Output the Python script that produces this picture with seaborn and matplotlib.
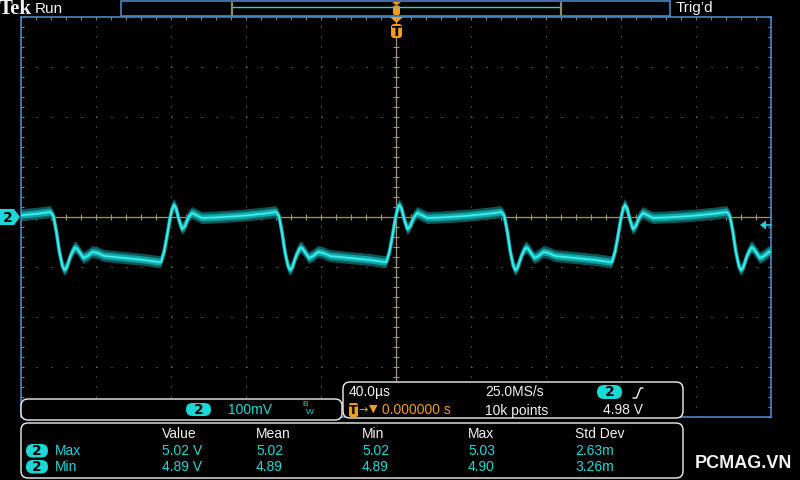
import numpy as np
import pandas as pd
import seaborn as sns
import matplotlib.pyplot as plt
from matplotlib.patches import FancyBboxPatch, Polygon, Rectangle


# ==================================================
# 파형 데이터 (화면에서 읽은 값)
# ==================================================
# ch2 한 주기: 상승 에지 기준 시간(us), 전압(V)
cycle_t_us = [-4.8, -3.2, -1.6, 0.0, 1.1, 2.1, 3.2, 4.8, 6.4, 8.0, 9.6, 11.7,
              13.9, 17.1, 24.0, 37.3, 50.7, 56.5,
              58.1, 59.7, 61.3, 62.9, 64.0, 65.1, 67.2, 69.3, 70.4, 72.0,
              74.1, 76.3, 78.9, 81.6, 85.3, 96.0, 106.7, 114.1]
cycle_v = [4.910, 4.930, 4.962, 4.998, 5.016, 5.024, 5.018, 4.994, 4.976, 4.982,
           4.998, 5.008, 5.004, 4.998, 4.999, 5.002, 5.007, 5.010,
           5.002, 4.970, 4.930, 4.902, 4.894, 4.898, 4.922, 4.938, 4.938, 4.930,
           4.918, 4.922, 4.930, 4.928, 4.922, 4.918, 4.914, 4.910]

# 화면에 보이는 상승 에지 위치(us)
rise_edges_us = [-240.8, -120.5, -0.3, 120.0]

# 측정 표
meas_cols = ["Value", "Mean", "Min", "Max", "Std Dev"]
meas_rows = ["Max", "Min"]
meas_vals = [["5.02 V", "5.02", "5.02", "5.03", "2.63m"],
             ["4.89 V", "4.89", "4.89", "4.90", "3.26m"]]

time_per_div = 40.0     # us
volt_per_div = 0.1      # V
volt_center = 5.0


trace = pd.concat(
    [pd.DataFrame({"t_us": np.add(e, cycle_t_us), "v": cycle_v}) for e in rise_edges_us],
    ignore_index=True,
)


# 시각화 설정
sns.set_theme(style="dark", rc={
    "axes.facecolor": "black",
    "figure.facecolor": "black",
    "lines.scale_dashes": False,
})
FONT = ["Liberation Sans", "DejaVu Sans"]
plt.rcParams["font.family"] = FONT

CYAN = "#1ad9d9"
ORANGE = "#f39c1e"
WHITE = "#f2f2f2"
BLUE = "#4e84c4"
GRID = "#8a8068"
CENTER = "#a09478"


fig = plt.figure(figsize=(8, 4.8), dpi=100)
ax = fig.add_axes([21 / 800, 63 / 480, 750 / 800, 400 / 480])

xmin, xmax = -5 * time_per_div, 5 * time_per_div
ymin, ymax = volt_center - 4 * volt_per_div, volt_center + 4 * volt_per_div

# 눈금(graticule)
for k in range(-4, 5):
    if k != 0:
        ax.axvline(k * time_per_div, color=GRID, lw=0.75, ls=(0, (0.75, 6.45)), zorder=1)
for k in range(-3, 4):
    if k != 0:
        ax.axhline(volt_center + k * volt_per_div, color=GRID, lw=0.75,
                   ls=(0, (0.75, 10.05)), zorder=1)

ax.axhline(volt_center, color=CENTER, lw=0.9, zorder=1)
ax.axvline(0, color=CENTER, lw=0.9, zorder=1)
minor_x = np.arange(xmin, xmax + 0.1, time_per_div / 5)
minor_y = np.arange(ymin, ymax + 0.001, volt_per_div / 5)
ax.plot(minor_x, np.full_like(minor_x, volt_center), ls="none", marker="|",
        ms=5, mew=0.8, color=CENTER, zorder=1)
ax.plot(np.zeros_like(minor_y), minor_y, ls="none", marker="_",
        ms=5, mew=0.8, color=CENTER, zorder=1)
for edge in (xmin, xmax):
    ax.plot(np.full_like(minor_y, edge), minor_y, ls="none", marker="_",
            ms=5, mew=0.8, color=GRID, zorder=1)
ax.plot(minor_x, np.full_like(minor_x, ymax), ls="none", marker="|",
        ms=5, mew=0.8, color=GRID, zorder=1)

# 파형 (잔상 밴드 + 중심선)
ax.fill_between(trace["t_us"], trace["v"] - 0.012, trace["v"] + 0.012,
                color="#0a5859", lw=0, zorder=2)
ax.fill_between(trace["t_us"], trace["v"] - 0.007, trace["v"] + 0.007,
                color="#12a2a2", lw=0, zorder=3)
sns.lineplot(data=trace, x="t_us", y="v", sort=False, estimator=None,
             color="#16b4b4", lw=2.6, ax=ax, zorder=3)
sns.lineplot(data=trace, x="t_us", y="v", sort=False, estimator=None,
             color="#3ef0f0", lw=1.2, ax=ax, zorder=4)

ax.set_xlim(xmin, xmax)
ax.set_ylim(ymin, ymax)
ax.set_xticks([])
ax.set_yticks([])
ax.set_xlabel("")
ax.set_ylabel("")
for s in ax.spines.values():
    s.set_visible(True)
    s.set_color(BLUE)
    s.set_linewidth(1.2)


# ==================================================
# 화면 UI (픽셀 좌표)
# ==================================================
ui = fig.add_axes([0, 0, 1, 1], zorder=5)
ui.set_xlim(0, 800)
ui.set_ylim(480, 0)
ui.axis("off")
ui.patch.set_alpha(0)


def txt(x, y, s, color=WHITE, size=10, **kw):
    ui.text(x, y, s, color=color, fontsize=size, va="center", ha="left",
            family=kw.pop("family", FONT), **kw)


def pill(x, y, w, h, label, color=CYAN):
    ui.add_patch(FancyBboxPatch((x, y), w, h, boxstyle=f"round,pad=0,rounding_size={h / 2}",
                                fc=color, ec="none"))
    ui.text(x + w / 2, y + h / 2 + 0.5, label, color="black", fontsize=10, fontweight="bold",
            ha="center", va="center", family=["DejaVu Sans"])


def panel(x, y, w, h):
    ui.add_patch(FancyBboxPatch((x, y), w, h, boxstyle="round,pad=0,rounding_size=7",
                                fc="black", ec=WHITE, lw=1.0))


# 상단 바
txt(-1, 9, "Tek", size=15, fontweight="bold", family=["Liberation Serif", "DejaVu Serif"])
txt(35, 9, "Run", size=11)
txt(676, 8, "Trig’d", size=11)
ui.add_patch(Rectangle((121, 1), 549, 15, fill=False, ec=BLUE, lw=1.2))
ui.plot([232, 561], [7, 7], color=CYAN, lw=1.0)
ui.plot([232, 232], [3, 15], color="#8f8a78", lw=1.6)
ui.plot([561, 561], [3, 15], color="#8f8a78", lw=1.6)
ui.add_patch(Polygon([(392, 2), (401, 2), (396.5, 5.5)], fc=ORANGE, ec="none"))
ui.add_patch(FancyBboxPatch((393, 5.5), 7, 9.5, boxstyle="round,pad=0,rounding_size=2",
                            fc=ORANGE, ec="none"))

# 트리거 위치 마커
ui.add_patch(Polygon([(390, 17), (403, 17), (396.5, 23)], fc=ORANGE, ec="none"))
ui.add_patch(FancyBboxPatch((391, 24), 11, 14, boxstyle="round,pad=0,rounding_size=3",
                            fc=ORANGE, ec="none"))
ui.text(396.5, 31.5, "T", color="black", fontsize=10, fontweight="bold",
        ha="center", va="center", family=["DejaVu Sans"])

# 채널 2 기준 마커 / 트리거 레벨 마커
ui.add_patch(Polygon([(0, 209), (14, 209), (20, 217), (14, 225), (0, 225)], fc=CYAN, ec="none"))
ui.text(8, 217.5, "2", color="black", fontsize=10, fontweight="bold",
        ha="center", va="center", family=["DejaVu Sans"])
ui.add_patch(Polygon([(760, 225), (766, 220.5), (766, 229.5)], fc=CYAN, ec="none"))
ui.plot([766, 771], [225, 225], color=CYAN, lw=1.2)

# 채널 박스
panel(21, 399, 321, 21)
pill(186, 403, 25, 13, "2")
txt(228, 409.5, "100mV", color=CYAN)
txt(302, 405, "B", color=CYAN, size=6)
txt(306, 412, "W", color=CYAN, size=6)

# 타임베이스 박스
panel(343, 382, 340, 36)
txt(349, 392, "40.0µs")
txt(485, 392, "25.0MS/s")
pill(597, 385, 25, 14, "2")
ui.plot([633, 636.5, 640.5, 643], [398, 398, 388, 388], color=WHITE, lw=1.0)
ui.add_patch(FancyBboxPatch((349, 403), 9, 14, boxstyle="round,pad=0,rounding_size=2",
                            fc=ORANGE, ec="none"))
ui.text(353.5, 410.5, "T", color="black", fontsize=9, fontweight="bold",
        ha="center", va="center", family=["DejaVu Sans"])
txt(358, 410, "→", color=ORANGE, size=8, family=["DejaVu Sans"])
txt(369, 409, "▼", color=ORANGE, size=8, family=["DejaVu Sans"])
txt(382, 410.5, "0.000000 s", color=ORANGE)
txt(485, 410.5, "10k points")
txt(603, 410.5, "4.98 V")

# 측정 박스
panel(21, 423, 662, 55)
col_x = [162, 256, 362, 468, 575]
for cx, name in zip(col_x, meas_cols):
    txt(cx, 434, name)
for ry, label, vals in zip([451, 467], meas_rows, meas_vals):
    pill(26, ry - 7, 22, 13.5, "2")
    txt(55, ry, label, color=CYAN)
    for cx, v in zip(col_x, vals):
        txt(cx, ry, v, color=CYAN)

txt(695, 463, "PCMAG.VN", size=13, fontweight="bold", family=["Liberation Sans", "DejaVu Sans"])


plt.savefig("out.png", dpi=100, facecolor="black")
plt.close()
